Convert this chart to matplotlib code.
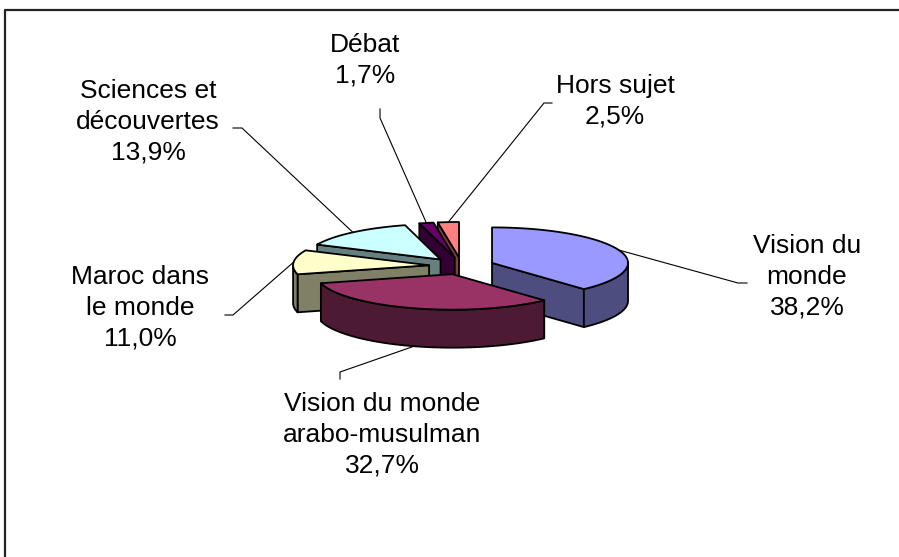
import numpy as np
import matplotlib.pyplot as plt
from matplotlib.patches import Polygon

plt.rcParams['font.family'] = ['Liberation Sans', 'DejaVu Sans']

# data
labels = ['Vision du\nmonde', 'Vision du monde\narabo-musulman', 'Maroc dans\nle monde',
          'Sciences et\ndécouvertes', 'Débat', 'Hors sujet']
shares = [38.2, 32.7, 11.0, 13.9, 1.7, 2.5]
top_colors = ['#9999FF', '#993366', '#FFFFCC', '#CCFFFF', '#660066', '#FF8080']
side_colors = ['#4D4D80', '#4D1A33', '#808066', '#668080', '#330033', '#804040']

# layout (pixels, y down)
cx, cy = 461.6, 266.0
rx, ry = 136.0, 35.5
depth = 38.0
explode = 0.24
label_pos = [(807, 277), (382, 435), (140, 308), (148, 122), (365, 60), (615, 101)]
elbows = [[(738, 283), (747, 283)], [(340, 372), (340, 379)], [(233, 315), (225, 315)],
          [(242, 128), (233, 128)], [(380, 118), (380, 109)], [(544, 103), (552, 103)]]

fig = plt.figure(figsize=(8.99, 5.57), dpi=100)
ax = fig.add_axes([0, 0, 1, 1])
ax.set_xlim(0, 899)
ax.set_ylim(557, 0)
ax.axis('off')


def pt(theta, ox, oy, r=1.0):
    t = np.radians(theta)
    return ox + r * rx * np.sin(t), oy - r * ry * np.cos(t)


fracs = np.array(shares) / sum(shares)
ends = np.cumsum(fracs) * 360
starts = ends - fracs * 360
mids = (starts + ends) / 2
order = np.argsort(-np.cos(np.radians(mids)))
lw = 1.3

for i in order:
    a, b, m = starts[i], ends[i], mids[i]
    ox, oy = pt(m, cx, cy, explode)
    # cut faces facing the viewer
    for ang, nrm in ((a, a - 90), (b, b + 90)):
        if np.cos(np.radians(nrm)) < -1e-6:
            ex, ey = pt(ang, ox, oy)
            poly = [(ox, oy), (ex, ey), (ex, ey + depth), (ox, oy + depth)]
            ax.add_patch(Polygon(poly, fc=side_colors[i], ec='k', lw=lw, joinstyle='round'))
    # outer wall (front half only)
    lo, hi = max(a, 90), min(b, 270)
    if hi > lo:
        t = np.linspace(lo, hi, 100)
        wx, wy = pt(t, ox, oy)
        poly = np.concatenate([np.c_[wx, wy], np.c_[wx[::-1], wy[::-1] + depth]])
        ax.add_patch(Polygon(poly, fc=side_colors[i], ec='k', lw=lw, joinstyle='round'))
    # top face
    t = np.linspace(a, b, 150)
    tx, ty = pt(t, ox, oy)
    poly = np.vstack([[ox, oy], np.c_[tx, ty]])
    ax.add_patch(Polygon(poly, fc=top_colors[i], ec='k', lw=lw, joinstyle='round'))

# labels and leader lines
for i in range(len(shares)):
    m = mids[i]
    ox, oy = pt(m, cx, cy, explode)
    axp, ayp = pt(m, ox, oy)
    if np.cos(np.radians(m)) < 0:
        ayp += depth
    (e1x, e1y), (e2x, e2y) = elbows[i]
    ax.plot([axp, e1x, e2x], [ayp, e1y, e2y], color='k', lw=0.8)
    pct = f"{shares[i]:.1f}%".replace('.', ',')
    ax.text(label_pos[i][0], label_pos[i][1], labels[i] + '\n' + pct,
            ha='center', va='center', fontsize=19, linespacing=1.35)

# chart frame (only left and top edges visible)
ax.plot([5, 5, 899], [557, 10, 10], color='#222222', lw=1.6, solid_capstyle='butt')

fig.savefig('out.png', dpi=100)
